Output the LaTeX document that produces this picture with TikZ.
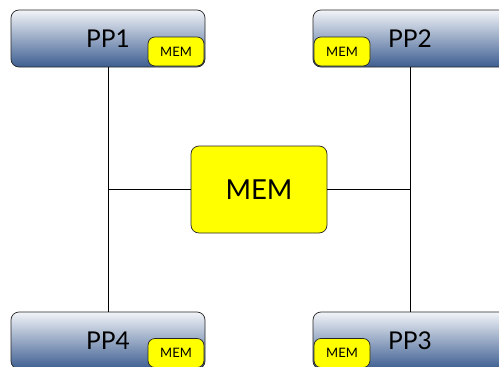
\documentclass[tikz,border=0pt]{standalone}
\usepackage{fontspec}
\setmainfont{Lato}
\definecolor{pptop}{HTML}{F2F4F8}
\definecolor{ppbot}{HTML}{3D5E91}
\definecolor{memfill}{HTML}{FFFF00}
\begin{document}
\begin{tikzpicture}[x=1pt,y=-1pt,
  ppbox/.style={draw=black!85, line width=0.7pt, rounded corners=8pt,
    top color=pptop, bottom color=ppbot, minimum width=194pt, minimum height=57pt,
    inner sep=0pt, font=\fontsize{24.5}{26}\selectfont},
  membig/.style={draw=black!85, line width=0.7pt, rounded corners=8pt, fill=memfill,
    minimum width=136pt, minimum height=87pt, inner sep=0pt,
    font=\fontsize{27.5}{30}\selectfont},
  memsmall/.style={draw=black!85, line width=0.7pt, rounded corners=7pt, fill=memfill,
    minimum width=56pt, minimum height=29pt, inner sep=0pt,
    font=\fontsize{13}{15}\selectfont},
  wire/.style={draw=black, line width=0.6pt}]
\useasboundingbox (0,0) rectangle (499,367);
\fill[white] (0,0) rectangle (499,367);

% processor boxes
\node[ppbox] (pp1) at (108,38.5) {PP1};
\node[ppbox] (pp2) at (410,38.5) {PP2};
\node[ppbox] (pp4) at (108,340.5) {PP4};
\node[ppbox] (pp3) at (410,340.5) {PP3};

% local memories
\node[memsmall] (m1) at (176,51.5) {MEM};
\node[memsmall] (m2) at (342,51.5) {MEM};
\node[memsmall] (m4) at (176,353) {MEM};
\node[memsmall] (m3) at (342,353) {MEM};

% shared memory
\node[membig] (mem) at (259,189.5) {MEM};

% bus junctions
\coordinate (jl) at (108,189.5);
\coordinate (jr) at (410,189.5);

\draw[wire] (pp1.south) -- (pp4.north);
\draw[wire] (pp2.south) -- (pp3.north);
\draw[wire] (jl) -- (mem.west);
\draw[wire] (mem.east) -- (jr);
\end{tikzpicture}
\end{document}
